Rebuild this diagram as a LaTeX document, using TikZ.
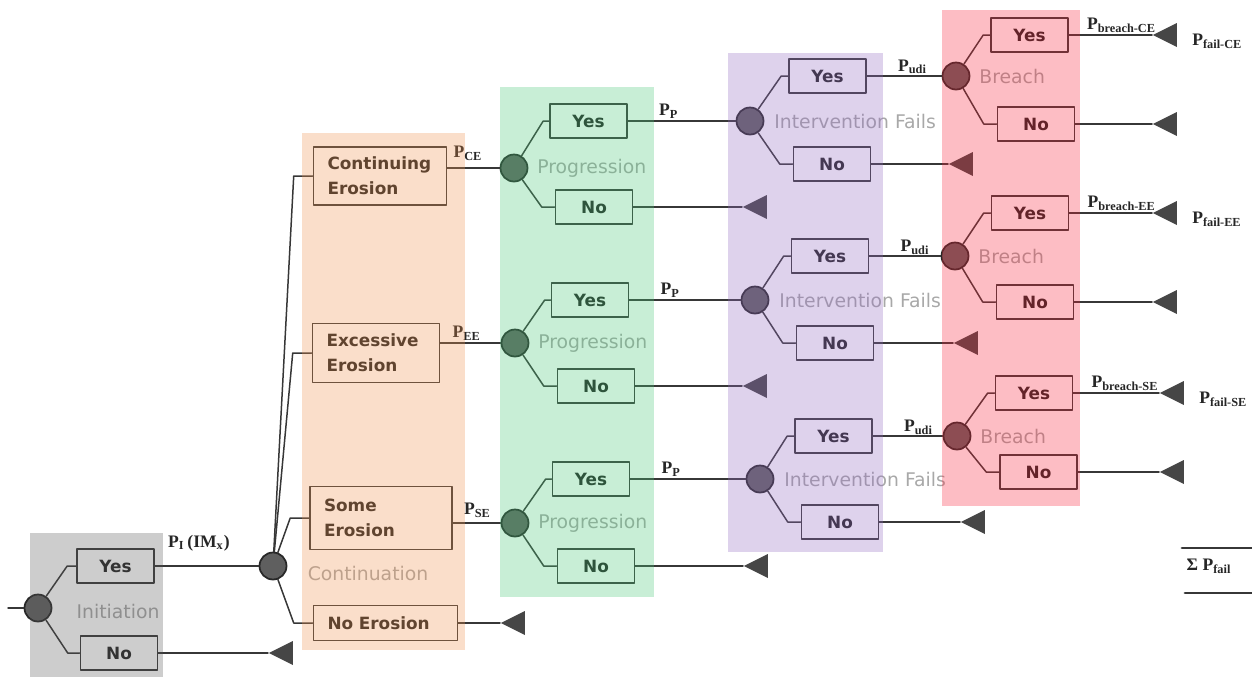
\documentclass[tikz,border=0pt]{standalone}
\usepackage{fontspec}
\setmainfont{DejaVu Sans}
\newfontfamily\pfont{Liberation Serif}
\usetikzlibrary{shapes.geometric,calc}

\definecolor{lineclr}{RGB}{55,55,55}
\definecolor{txtclr}{RGB}{35,35,35}
\definecolor{circfill}{RGB}{95,95,95}
\definecolor{circline}{RGB}{40,40,40}
\definecolor{termclr}{RGB}{70,70,70}
\definecolor{stageclr}{RGB}{168,168,168}
\definecolor{pgray}{RGB}{88,88,88}
\definecolor{porange}{RGB}{238,145,78}
\definecolor{pgreen}{RGB}{72,198,118}
\definecolor{ppurple}{RGB}{145,105,192}
\definecolor{pred}{RGB}{248,38,58}

\begin{document}
\begin{tikzpicture}[line cap=round,line join=round,x=0.02cm,y=-0.02cm,
		ln/.style={draw=lineclr,line width=0.85pt},
		chance/.style={circle,draw=circline,fill=circfill,line width=1pt,minimum size=0.54cm,inner sep=0pt},
		yn/.style={draw=lineclr,line width=0.9pt,minimum width=1.54cm,minimum height=0.68cm,inner sep=0pt,text=txtclr,font=\fontsize{9.6}{11}\selectfont\bfseries},
		ev/.style={draw=lineclr,line width=0.9pt,inner xsep=0.28cm,inner ysep=0pt,align=left,text=txtclr,font=\fontsize{9.6}{14.2}\selectfont\bfseries},
		term/.style={isosceles triangle,shape border rotate=180,isosceles triangle stretches,minimum width=0.48cm,minimum height=0.48cm,inner sep=0pt,fill=termclr,anchor=apex},
		stage/.style={text=stageclr,inner sep=0pt,anchor=west,font=\fontsize{10.7}{12}\selectfont},
		pr/.style={text=black!85,inner sep=0pt,anchor=west,font=\pfont\fontsize{10}{12}\selectfont\bfseries},
		panel/.style={fill opacity=0.3}]
\useasboundingbox (0,0) rectangle (1252,677);

% initiation
\coordinate (in) at (8,608);
\node[chance] (ci) at (38,608) {};
\node[yn] (yi) at (115.5,566) {Yes};
\node[yn] (ni) at (119,653) {No};
\node[term] (ti) at (268,653) {};
\node[stage,anchor=center] at (118,611) {Initiation};
\draw[ln] (in) -- (ci);
\draw[ln] (ci) -- ($(yi.west)+(-9,0)$) -- (yi.west);
\draw[ln] (ci) -- ($(ni.west)+(-12,0)$) -- (ni.west);
\draw[ln] (ni.east) -- (ti.apex);

% continuation
\node[chance] (cc) at (273,566) {};
\draw[ln] (yi.east) -- (cc);
\node[pr] at ($(yi.east)+(13,-23)$) {P\textsubscript{I}\,(IM\textsubscript{x})};
\node[ev,text width=2.1cm,minimum height=1.16cm] (ce) at (380,176) {Continuing\\Erosion};
\node[ev,text width=1.98cm,minimum height=1.18cm] (ee) at (376,353) {Excessive\\Erosion};
\node[ev,text width=2.28cm,minimum height=1.26cm] (se) at (381,518) {Some\\Erosion};
\node[ev,text width=2.32cm,minimum height=0.7cm] (ne) at (385.5,623) {No Erosion};
\node[term] (tc) at (500,623) {};
\node[stage,anchor=center] at (368,573) {Continuation};
\foreach \e in {ce,ee,se,ne}
	\draw[ln] (cc) -- ($(\e.west)+(-19,0)$) -- (\e.west);
\draw[ln] (ne.east) -- (tc.apex);

% progression
\foreach \br/\cx/\cy/\yx/\yy/\nx/\ny/\tx in {a/514/168/588.5/121/594/207/742,b/515/343/590/300/596/386/742,c/515/523/591/479/596/566/743}{
	\node[chance] (p\br) at (\cx,\cy) {};
	\node[yn] (py\br) at (\yx,\yy) {Yes};
	\node[yn] (pn\br) at (\nx,\ny) {No};
	\node[term] (pt\br) at (\tx,\ny) {};
	\node[stage] at ($(p\br)+(23,0)$) {Progression};
	\node[pr] at ($(py\br.east)+(31,-10)$) {P\textsubscript{P}};
	\draw[ln] (p\br) -- ($(py\br.west)+(-6,0)$) -- (py\br.west);
	\draw[ln] (p\br) -- ($(pn\br.west)+(-13,0)$) -- (pn\br.west);
	\draw[ln] (pn\br.east) -- (pt\br.apex);
}
\draw[ln] (ce.east |- pa) -- (pa);
\draw[ln] (ee.east |- pb) -- (pb);
\draw[ln] (se.east |- pc) -- (pc);
\node[pr] at ($(ce.east |- pa)+(6,-15)$) {P\textsubscript{CE}};
\node[pr] at ($(ee.east |- pb)+(12,-10)$) {P\textsubscript{EE}};
\node[pr] at ($(se.east |- pc)+(11,-13)$) {P\textsubscript{SE}};

% intervention
\foreach \br/\cx/\cy/\yx/\yy/\nx/\ny/\tx in {a/750/121/827.5/76/832/164/948,b/755/300/830/256/835/343/953,c/760/479/833.5/436/840/522/960}{
	\node[chance] (i\br) at (\cx,\cy) {};
	\node[yn] (iy\br) at (\yx,\yy) {Yes};
	\node[yn] (in\br) at (\nx,\ny) {No};
	\node[term] (it\br) at (\tx,\ny) {};
	\node[stage] at ($(i\br)+(24,0)$) {Intervention Fails};
	\node[pr] at ($(iy\br.east)+(31,-9)$) {P\textsubscript{udi}};
	\draw[ln] (i\br) -- ($(iy\br.west)+(-7,0)$) -- (iy\br.west);
	\draw[ln] (i\br) -- ($(in\br.west)+(-13,0)$) -- (in\br.west);
	\draw[ln] (in\br.east) -- (it\br.apex);
	\draw[ln] (py\br.east) -- (i\br);
}

% breach
\foreach \br/\cx/\cy/\yx/\yy/\nx/\ny/\tx/\cs in {a/956/76/1029.5/35/1036/124/1152/CE,b/955/256/1030/213/1035/302/1152/EE,c/957/436/1034/393/1038.5/472/1159/SE}{
	\node[chance] (b\br) at (\cx,\cy) {};
	\node[yn] (by\br) at (\yx,\yy) {Yes};
	\node[yn] (bn\br) at (\nx,\ny) {No};
	\node[term] (bt\br) at (\tx,\yy) {};
	\node[term] (bu\br) at (\tx,\ny) {};
	\node[stage] at ($(b\br)+(23,0)$) {Breach};
	\node[pr] at ($(by\br.east)+(18,-10)$) {P\textsubscript{breach-\cs}};
	\node[pr] at ($(bt\br.apex)+(40,6)$) {P\textsubscript{fail-\cs}};
	\draw[ln] (b\br) -- ($(by\br.west)+(-7,0)$) -- (by\br.west);
	\draw[ln] (b\br) -- ($(bn\br.west)+(-13,0)$) -- (bn\br.west);
	\draw[ln] (by\br.east) -- (bt\br.apex);
	\draw[ln] (bn\br.east) -- (bu\br.apex);
	\draw[ln] (iy\br.east) -- (b\br);
}

% sum
\node[pr,anchor=center] (sum) at (1209,566) {Σ P\textsubscript{fail}};
\draw[lineclr,line width=1.6pt] (1182,548) -- (1252,548);
\draw[lineclr,line width=1.6pt] (1185,593) -- (1252,593);

% stage panels
\fill[pgray,panel] (30,533) rectangle (163,677);
\fill[porange,panel] (302,133) rectangle (465,650);
\fill[pgreen,panel] (500,87) rectangle (654,597);
\fill[ppurple,panel] (728,53) rectangle (883,552);
\fill[pred,panel] (942,10) rectangle (1080,506);
\end{tikzpicture}
\end{document}
